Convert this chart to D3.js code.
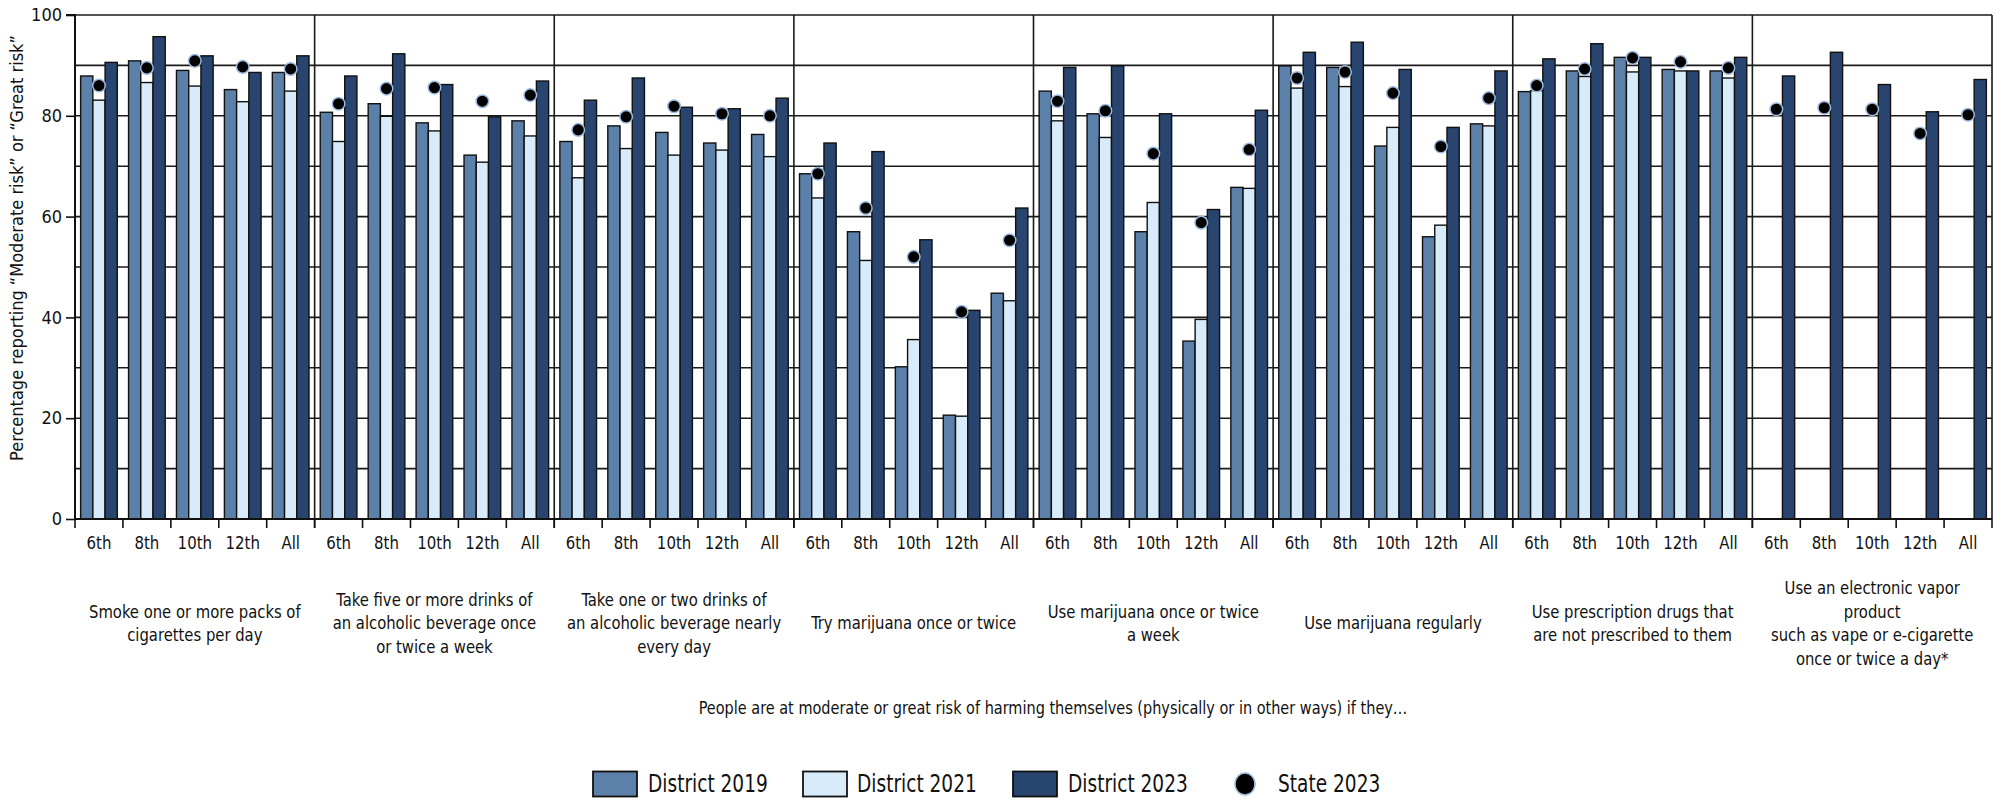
<!DOCTYPE html>
<html>
<head>
<meta charset="utf-8">
<script src="https://cdn.jsdelivr.net/npm/d3@7"></script>
<style>
  html, body { margin: 0; padding: 0; background: #fff; }
  svg text { font-family: "Liberation Sans Narrow", "Arial Narrow", "DejaVu Sans Condensed", sans-serif; fill: #111; }
</style>
</head>
<body>
<svg id="chart" width="2007" height="801"></svg>
<script>
// ---------- DATA ----------
const grades = ["6th", "8th", "10th", "12th", "All"];
const groupLabels = [
  ["Smoke one or more packs of", "cigarettes per day"],
  ["Take five or more drinks of", "an alcoholic beverage once", "or twice a week"],
  ["Take one or two drinks of", "an alcoholic beverage nearly", "every day"],
  ["Try marijuana once or twice"],
  ["Use marijuana once or twice", "a week"],
  ["Use marijuana regularly"],
  ["Use prescription drugs that", "are not prescribed to them"],
  ["Use an electronic vapor", "product", "such as vape or e-cigarette", "once or twice a day*"]
];
const seriesNames = ["District 2019", "District 2021", "District 2023"];
const dotName = "State 2023";

const district2019 = [87.9, 90.9, 89.0, 85.2, 88.6,  80.7, 82.4, 78.6, 72.2, 79.0,  74.9, 78.0, 76.7, 74.6, 76.3,
                      68.5, 57.0, 30.2, 20.6, 44.8,  84.9, 80.4, 57.0, 35.3, 65.8,  89.9, 89.6, 74.0, 56.0, 78.4,
                      84.8, 88.9, 91.6, 89.2, 88.9,  null, null, null, null, null];
const district2021 = [83.1, 86.6, 85.9, 82.8, 84.9,  74.9, 79.9, 77.0, 70.8, 76.0,  67.7, 73.5, 72.2, 73.2, 71.9,
                      63.7, 51.3, 35.6, 20.4, 43.3,  79.0, 75.7, 62.8, 39.6, 65.6,  85.5, 85.8, 77.7, 58.3, 78.0,
                      85.0, 87.8, 88.7, 88.9, 87.5,  null, null, null, null, null];
const district2023 = [90.6, 95.7, 91.9, 88.6, 91.9,  87.9, 92.3, 86.2, 79.8, 86.9,  83.1, 87.5, 81.7, 81.4, 83.5,
                      74.6, 72.9, 55.4, 41.4, 61.7,  89.6, 89.9, 80.4, 61.4, 81.1,  92.6, 94.6, 89.2, 77.7, 88.9,
                      91.3, 94.3, 91.6, 88.9, 91.6,  87.9, 92.6, 86.2, 80.8, 87.2];
const state2023    = [86.0, 89.5, 90.9, 89.7, 89.3,  82.4, 85.4, 85.6, 82.9, 84.1,  77.2, 79.8, 81.9, 80.4, 80.0,
                      68.5, 61.7, 52.0, 41.1, 55.3,  82.9, 81.0, 72.5, 58.8, 73.3,  87.5, 88.7, 84.5, 73.9, 83.5,
                      86.0, 89.3, 91.5, 90.7, 89.5,  81.3, 81.6, 81.3, 76.5, 80.2];

const yTicks = [0, 20, 40, 60, 80, 100];
const yGrid = [10, 20, 30, 40, 50, 60, 70, 80, 90, 100];
const yTitle = "Percentage reporting \u201CModerate risk\u201D or \u201CGreat risk\u201D";
const xTitle = "People are at moderate or great risk of harming themselves (physically or in other ways) if they\u2026";

// ---------- BUILD ----------
const colors = ["#5b80a9", "#d8ebfb", "#27456f"];
const dotFill = "#000", dotStroke = "#9dbbe0";

const seriesData = [district2019, district2021, district2023];
const cats = [];
groupLabels.forEach((g, gi) => grades.forEach((gr, ci) => cats.push({ key: gi + "-" + ci, group: gi, grade: gr, idx: gi * 5 + ci })));

const svg = d3.select("#chart");
const L = 75, R = 1992, T = 15, B = 519;

// condensed text helper
function ctext(parent, x, y, str, size, anchor, sx, rot) {
  const g = parent.append("g").attr("transform", `translate(${x},${y})` + (rot ? ` rotate(${rot})` : "") + ` scale(${sx},1)`);
  return g.append("text").attr("x", 0).attr("y", 0).attr("dy", "0.35em")
    .attr("text-anchor", anchor).attr("font-size", size).text(str);
}

const x = d3.scaleBand().domain(cats.map(c => c.key)).range([L, R]).padding(0);
const xs = d3.scaleBand().domain(seriesNames).range([0, x.bandwidth()]).paddingInner(0).paddingOuter(0.46);
const y = d3.scaleLinear().domain([0, 100]).range([B, T]);

// gridlines
svg.append("g").selectAll("line").data(yGrid).join("line")
  .attr("x1", L).attr("x2", R)
  .attr("y1", d => y(d)).attr("y2", d => y(d))
  .attr("stroke", "#1a1a1a").attr("stroke-width", 1.6);

// group separators
const sepData = d3.range(1, groupLabels.length).map(i => x(cats[i * 5].key));
svg.append("g").selectAll("line").data(sepData).join("line")
  .attr("x1", d => d).attr("x2", d => d)
  .attr("y1", T).attr("y2", B + 9)
  .attr("stroke", "#1a1a1a").attr("stroke-width", 1.6);

// right border
svg.append("line").attr("x1", R).attr("x2", R).attr("y1", T).attr("y2", B + 9)
  .attr("stroke", "#1a1a1a").attr("stroke-width", 1.6);

// bars
const barG = svg.append("g");
seriesData.forEach((arr, si) => {
  barG.append("g").selectAll("rect")
    .data(cats.filter(c => arr[c.idx] != null))
    .join("rect")
    .attr("x", c => x(c.key) + xs(seriesNames[si]))
    .attr("width", xs.bandwidth())
    .attr("y", c => y(arr[c.idx]))
    .attr("height", c => y(0) - y(arr[c.idx]))
    .attr("fill", colors[si])
    .attr("stroke", "#111").attr("stroke-width", 1.4);
});

// dots
svg.append("g").selectAll("circle")
  .data(cats.filter(c => state2023[c.idx] != null))
  .join("circle")
  .attr("cx", c => x(c.key) + xs(seriesNames[1]) + xs.bandwidth() / 2)
  .attr("cy", c => y(state2023[c.idx]))
  .attr("r", 6.3)
  .attr("fill", dotFill).attr("stroke", dotStroke).attr("stroke-width", 1.5);

// x axis baseline & ticks
svg.append("line").attr("x1", L).attr("x2", R).attr("y1", B).attr("y2", B)
  .attr("stroke", "#111").attr("stroke-width", 2);
svg.append("g").selectAll("line").data(cats).join("line")
  .attr("x1", c => x(c.key)).attr("x2", c => x(c.key))
  .attr("y1", B).attr("y2", B + 9)
  .attr("stroke", "#111").attr("stroke-width", 1.6);

// x tick labels
const xl = svg.append("g");
cats.forEach(c => ctext(xl, x(c.key) + x.bandwidth() / 2, 543, c.grade, 18.5, "middle", 0.9));

// y axis
const yAxis = d3.axisLeft(y).tickValues(yTicks).tickSize(9).tickPadding(4).tickFormat(d3.format("d"));
const yg = svg.append("g").attr("transform", `translate(${L},0)`).call(yAxis);
yg.select(".domain").attr("stroke", "#111").attr("stroke-width", 2).attr("d", `M-9,${T}H0V${B}`);
yg.selectAll(".tick line").attr("stroke", "#111").attr("stroke-width", 1.6);
yg.selectAll(".tick text").attr("font-size", 18).attr("fill", "#111")
  .style("font-family", "'Liberation Sans Narrow','Arial Narrow','DejaVu Sans Condensed',sans-serif");

// y title
ctext(svg, 17, 248, yTitle, 18, "middle", 1, -90);

// group labels
const gl = svg.append("g");
groupLabels.forEach((lines, gi) => {
  const cx = x(cats[gi * 5].key) + x.bandwidth() * 2.5;
  const n = lines.length;
  lines.forEach((ln, i) => {
    ctext(gl, cx, 623 + (i - (n - 1) / 2) * 23.5, ln, 18.5, "middle", 0.89);
  });
});

// x title
ctext(svg, 1053, 708, xTitle, 18.5, "middle", 0.87);

// legend
const legY = 784;
const legItems = [
  { type: "rect", color: colors[0], label: seriesNames[0], sx: 593, tx: 648 },
  { type: "rect", color: colors[1], label: seriesNames[1], sx: 803, tx: 857 },
  { type: "rect", color: colors[2], label: seriesNames[2], sx: 1013, tx: 1068 },
  { type: "dot", color: dotFill, label: dotName, sx: 1245, tx: 1278 }
];
const lg = svg.append("g");
legItems.forEach(it => {
  if (it.type === "rect") {
    lg.append("rect").attr("x", it.sx).attr("y", legY - 12.5).attr("width", 44).attr("height", 25)
      .attr("fill", it.color).attr("stroke", "#111").attr("stroke-width", 1.8);
  } else {
    lg.append("ellipse").attr("cx", it.sx).attr("cy", legY).attr("rx", 10).attr("ry", 11)
      .attr("fill", it.color).attr("stroke", dotStroke).attr("stroke-width", 1.5);
  }
  ctext(lg, it.tx, legY, it.label, 24, "start", 0.86);
});
</script>
</body>
</html>
